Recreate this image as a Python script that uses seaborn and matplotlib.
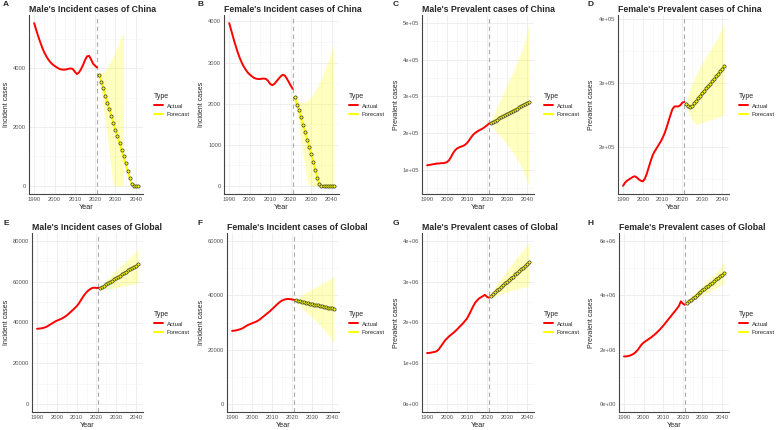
import numpy as np
import pandas as pd
import matplotlib
matplotlib.use('Agg')
import matplotlib.pyplot as plt
from matplotlib.lines import Line2D
from matplotlib.ticker import MultipleLocator, FixedLocator, FuncFormatter
import seaborn as sns

# Years
years_actual = list(range(1990, 2022))
years_forecast = list(range(2022, 2042))
year_ticks = [1990, 2000, 2010, 2020, 2030, 2040]
cutoff_year = 2021

# A - Male incident, China
a_actual = [5530, 5300, 5080, 4880, 4690, 4530, 4400, 4290, 4200, 4130, 4080, 4030, 3990, 3960, 3950, 3950,
            3960, 3980, 3990, 3970, 3880, 3800, 3850, 3960, 4100, 4270, 4400, 4420, 4300, 4150, 4080, 4020]
a_forecast = [3773, 3545, 3318, 3068, 2818, 2614, 2386, 2136, 1909, 1705, 1455, 1216, 1000, 761, 511, 284,
              80, 0, 0, 0]
a_lower = [3773, 3250, 2700, 2150, 1600, 1050, 500, 0, 0, 0, 0, 0, 0] + [np.nan] * 7
a_upper = [3800, 3830, 3880, 3950, 4040, 4150, 4280, 4420, 4580, 4750, 4930, 5100, 5230] + [np.nan] * 7

# B - Female incident, China
b_actual = [3960, 3780, 3600, 3430, 3270, 3130, 3010, 2910, 2830, 2760, 2710, 2670, 2630, 2610, 2600, 2600,
            2610, 2610, 2600, 2550, 2480, 2450, 2480, 2540, 2600, 2660, 2700, 2690, 2620, 2530, 2440, 2360]
b_forecast = [2171, 1967, 1845, 1667, 1480, 1300, 1122, 951, 764, 585, 390, 203, 40, 0, 0, 0, 0, 0, 0, 0]
b_lower = [2171, 1800, 1450, 1100, 760, 430, 120, 0, 0, 0, 0, 0, 0, 0, 0, 0, 0, 0, 0, 0]
b_upper = [2171, 2110, 2070, 2040, 2030, 2040, 2070, 2110, 2170, 2240, 2320, 2410, 2510, 2620, 2740, 2870,
           3000, 3140, 3290, 3450]

# C - Male prevalent, China (x 1e5)
c_actual = [1.12, 1.13, 1.14, 1.15, 1.16, 1.17, 1.17, 1.18, 1.18, 1.19, 1.21, 1.26, 1.35, 1.45, 1.53, 1.58,
            1.61, 1.63, 1.65, 1.68, 1.73, 1.80, 1.88, 1.95, 2.00, 2.04, 2.07, 2.10, 2.13, 2.17, 2.21, 2.26]
c_forecast = [2.28, 2.31, 2.34, 2.37, 2.40, 2.43, 2.46, 2.49, 2.52, 2.55, 2.58, 2.61, 2.64, 2.67, 2.70, 2.73,
              2.76, 2.79, 2.82, 2.85]
c_lower = [2.26, 2.15, 2.08, 2.02, 1.96, 1.90, 1.83, 1.76, 1.69, 1.62, 1.55, 1.47, 1.39, 1.30, 1.20, 1.10,
           0.98, 0.86, 0.72, 0.56]
c_upper = [2.30, 2.45, 2.58, 2.70, 2.82, 2.94, 3.06, 3.18, 3.30, 3.42, 3.54, 3.66, 3.79, 3.92, 4.06, 4.20,
           4.35, 4.50, 4.70, 5.00]

# D - Female prevalent, China (x 1e5)
d_actual = [1.39, 1.44, 1.47, 1.49, 1.51, 1.53, 1.54, 1.52, 1.49, 1.47, 1.46, 1.50, 1.58, 1.68, 1.78, 1.87,
            1.93, 1.98, 2.03, 2.08, 2.14, 2.21, 2.30, 2.40, 2.50, 2.59, 2.63, 2.63, 2.63, 2.65, 2.69, 2.70]
d_forecast = [2.67, 2.635, 2.62, 2.64, 2.68, 2.72, 2.76, 2.80, 2.84, 2.875, 2.91, 2.945, 2.98, 3.02, 3.06,
              3.10, 3.14, 3.18, 3.22, 3.26]
d_lower = [2.64, 2.55, 2.47, 2.41, 2.37, 2.35, 2.36, 2.37, 2.38, 2.39, 2.40, 2.41, 2.42, 2.43, 2.44, 2.45,
           2.46, 2.47, 2.49, 2.52]
d_upper = [2.70, 2.82, 2.92, 3.00, 3.07, 3.13, 3.19, 3.25, 3.30, 3.36, 3.41, 3.46, 3.51, 3.56, 3.61, 3.66,
           3.72, 3.78, 3.85, 3.93]

# E - Male incident, Global
e_actual = [36900, 37000, 37100, 37300, 37600, 38000, 38600, 39200, 39800, 40400, 40900, 41300, 41700, 42200,
            42800, 43500, 44300, 45200, 46100, 47000, 48000, 49200, 50700, 52300, 53700, 54900, 55800, 56500,
            57000, 57100, 57000, 57000]
e_forecast = [56900, 57500, 58100, 58700, 59300, 59900, 60600, 61200, 61800, 62400, 63100, 63700, 64300,
              64900, 65600, 66200, 66800, 67400, 68000, 68700]
e_lower = [56600, 56500, 56500, 56500, 56600, 56700, 56800, 57000, 57200, 57400, 57600, 57800, 58000, 58200,
           58400, 58600, 58800, 59000, 59200, 59500]
e_upper = [57200, 58500, 59700, 60800, 61900, 62900, 63900, 64800, 65700, 66600, 67500, 68400, 69300, 70100,
           71000, 71900, 72900, 73900, 75100, 76500]

# F - Female incident, Global
f_actual = [26900, 27000, 27100, 27300, 27500, 27800, 28200, 28700, 29100, 29400, 29700, 30000, 30300, 30700,
            31200, 31800, 32400, 33000, 33600, 34200, 34900, 35600, 36300, 37000, 37600, 38100, 38400, 38600,
            38700, 38600, 38500, 38400]
f_forecast = [38200, 38000, 37800, 37700, 37500, 37300, 37100, 37000, 36800, 36600, 36500, 36300, 36100,
              36000, 35800, 35600, 35500, 35300, 35200, 35000]
f_lower = [38000, 37000, 36200, 35400, 34700, 34000, 33300, 32600, 31900, 31200, 30500, 29800, 29000, 28200,
           27400, 26600, 25700, 24700, 23700, 22500]
f_upper = [38500, 39200, 39700, 40200, 40700, 41100, 41500, 41900, 42300, 42700, 43100, 43500, 43900, 44300,
           44700, 45100, 45500, 46000, 46500, 47100]

# G - Male prevalent, Global (x 1e6)
g_actual = [1.25, 1.25, 1.26, 1.27, 1.28, 1.30, 1.35, 1.42, 1.49, 1.56, 1.61, 1.66, 1.70, 1.74, 1.78, 1.83,
            1.88, 1.93, 1.98, 2.04, 2.10, 2.19, 2.29, 2.39, 2.48, 2.54, 2.59, 2.62, 2.65, 2.68, 2.63, 2.61]
g_forecast = [2.66, 2.70, 2.74, 2.79, 2.83, 2.87, 2.92, 2.96, 3.00, 3.05, 3.09, 3.13, 3.18, 3.22, 3.26, 3.31,
              3.35, 3.39, 3.44, 3.48]
g_lower = [2.64, 2.63, 2.64, 2.66, 2.68, 2.70, 2.72, 2.74, 2.75, 2.77, 2.78, 2.80, 2.81, 2.82, 2.83, 2.85,
           2.86, 2.87, 2.88, 2.90]
g_upper = [2.68, 2.78, 2.86, 2.94, 3.01, 3.08, 3.14, 3.21, 3.27, 3.34, 3.40, 3.46, 3.53, 3.59, 3.65, 3.71,
           3.77, 3.83, 3.89, 3.95]

# H - Female prevalent, Global (x 1e6)
h_actual = [1.75, 1.75, 1.76, 1.78, 1.81, 1.85, 1.91, 1.99, 2.09, 2.19, 2.26, 2.31, 2.36, 2.41, 2.46, 2.52,
            2.58, 2.65, 2.72, 2.80, 2.88, 2.97, 3.06, 3.15, 3.24, 3.33, 3.42, 3.51, 3.61, 3.78, 3.70, 3.65]
h_forecast = [3.72, 3.78, 3.84, 3.90, 3.95, 4.01, 4.07, 4.13, 4.18, 4.24, 4.30, 4.36, 4.41, 4.47, 4.53, 4.59,
              4.65, 4.70, 4.76, 4.82]
h_lower = [3.70, 3.72, 3.76, 3.80, 3.84, 3.88, 3.92, 3.96, 4.00, 4.04, 4.08, 4.12, 4.16, 4.20, 4.24, 4.28,
           4.32, 4.36, 4.40, 4.45]
h_upper = [3.74, 3.84, 3.93, 4.01, 4.09, 4.16, 4.23, 4.30, 4.37, 4.44, 4.51, 4.58, 4.65, 4.72, 4.79, 4.86,
           4.93, 5.01, 5.13, 5.26]

tags = ['A', 'B', 'C', 'D', 'E', 'F', 'G', 'H']
titles = ["Male's Incident cases of China", "Female's Incident cases of China",
          "Male's Prevalent cases of China", "Female's Prevalent cases of China",
          "Male's Incident cases of Global", "Female's Incident cases of Global",
          "Male's Prevalent cases of Global", "Female's Prevalent cases of Global"]
ylabels = ['Incident cases', 'Incident cases', 'Prevalent cases', 'Prevalent cases',
           'Incident cases', 'Incident cases', 'Prevalent cases', 'Prevalent cases']
scales = [1, 1, 1e5, 1e5, 1, 1, 1e6, 1e6]
ytick_lists = [[0, 2000, 4000], [0, 1000, 2000, 3000, 4000],
               [1e5, 2e5, 3e5, 4e5, 5e5], [2e5, 3e5, 4e5],
               [0, 20000, 40000, 60000, 80000], [0, 20000, 40000, 60000],
               [0, 1e6, 2e6, 3e6, 4e6], [0, 2e6, 4e6, 6e6]]
ylimits = [None, None, None, None, (0, 80000), (0, 60000), (0, 4e6), (0, 6e6)]
sci_format = [False, False, True, True, False, False, True, True]

series = [(a_actual, a_forecast, a_lower, a_upper), (b_actual, b_forecast, b_lower, b_upper),
          (c_actual, c_forecast, c_lower, c_upper), (d_actual, d_forecast, d_lower, d_upper),
          (e_actual, e_forecast, e_lower, e_upper), (f_actual, f_forecast, f_lower, f_upper),
          (g_actual, g_forecast, g_lower, g_upper), (h_actual, h_forecast, h_lower, h_upper)]

# panel boxes in pixels: left, top, right, bottom
boxes = [(29, 15, 143, 194), (224, 15, 339, 194), (422, 15, 534, 194), (618, 15, 729, 194),
         (32, 233, 143, 412), (227, 233, 339, 412), (422, 233, 534, 412), (619, 233, 729, 412)]

sns.set_theme(style='white')
plt.rcParams['font.family'] = ['Liberation Sans', 'DejaVu Sans']

W, H = 779, 430
fig = plt.figure(figsize=(W / 100, H / 100), dpi=100)


def sci(v, pos):
    if v == 0:
        return '0e+00'
    e = int(np.floor(np.log10(abs(v))))
    m = v / 10 ** e
    return f"{m:g}e+{e:02d}"


for i in range(8):
    l, t, r, b = boxes[i]
    ax = fig.add_axes([l / W, 1 - b / H, (r - l) / W, (b - t) / H])
    act, fc, lo, up = series[i]
    s = scales[i]
    act = np.array(act) * s
    fc = np.array(fc) * s
    lo = np.array(lo, dtype=float) * s
    up = np.array(up, dtype=float) * s

    # confidence band, cutoff line, actual and forecast lines
    ax.fill_between(years_forecast, lo, up, color='yellow', alpha=0.25, lw=0)
    ax.axvline(cutoff_year, color='#AAAAAA', ls=(0, (4, 3)), lw=0.8)
    sns.lineplot(x=years_actual, y=act, color='red', lw=1.4, ax=ax)
    sns.lineplot(x=years_forecast, y=fc, color='yellow', lw=1.5, marker='o', markersize=2.3,
                 markerfacecolor='yellow', markeredgecolor='#333333', markeredgewidth=0.5, ax=ax)

    if ylimits[i] is not None:
        y0, y1 = ylimits[i]
        pad = (y1 - y0) * 0.05
        ax.set_ylim(y0 - pad, y1 + pad)

    yt = ytick_lists[i]
    step = yt[1] - yt[0]
    ax.yaxis.set_major_locator(FixedLocator(yt))
    ax.yaxis.set_minor_locator(MultipleLocator(step / 2))
    ax.xaxis.set_major_locator(FixedLocator(year_ticks))
    ax.xaxis.set_minor_locator(MultipleLocator(5))
    if sci_format[i]:
        ax.yaxis.set_major_formatter(FuncFormatter(sci))
    else:
        ax.yaxis.set_major_formatter(FuncFormatter(lambda v, p: f"{int(round(v))}"))

    ax.grid(which='major', color='#EBEBEB', lw=0.6)
    ax.grid(which='minor', color='#F3F3F3', lw=0.4)
    ax.set_axisbelow(True)
    for sp in ['top', 'right']:
        ax.spines[sp].set_visible(False)
    for sp in ['left', 'bottom']:
        ax.spines[sp].set_color('#444444')
        ax.spines[sp].set_linewidth(0.8)
    ax.tick_params(which='both', length=0, labelsize=4.2, labelcolor='#555555', pad=2)

    ax.set_xlabel('Year', fontsize=5.2, labelpad=1.5)
    ax.set_ylabel(ylabels[i], fontsize=5)
    col_off = (i % 4) * 195
    ax.yaxis.set_label_coords((col_off + 10 - l) / (r - l), 0.5)

    row_off = 0 if i < 4 else 218
    fig.text(l / W, 1 - (row_off + 9) / H, titles[i], fontsize=6.3, fontweight='bold',
             ha='left', va='center')
    fig.text((col_off + 3) / W, 1 - (row_off + 5) / H, tags[i], fontsize=6, fontweight='bold',
             ha='left', va='center')

    handles = [Line2D([], [], color='red', lw=1.4), Line2D([], [], color='yellow', lw=1.5)]
    ax.legend(handles, ['Actual', 'Forecast'], title='Type', frameon=False, loc='upper left',
              bbox_to_anchor=((col_off + 151) / W, 1 - (row_off + 90) / H),
              bbox_transform=fig.transFigure, fontsize=4.2, title_fontsize=5,
              handlelength=1.6, handletextpad=0.6, labelspacing=0.6, borderpad=0,
              alignment='left')

plt.savefig('out.png', dpi=100)
